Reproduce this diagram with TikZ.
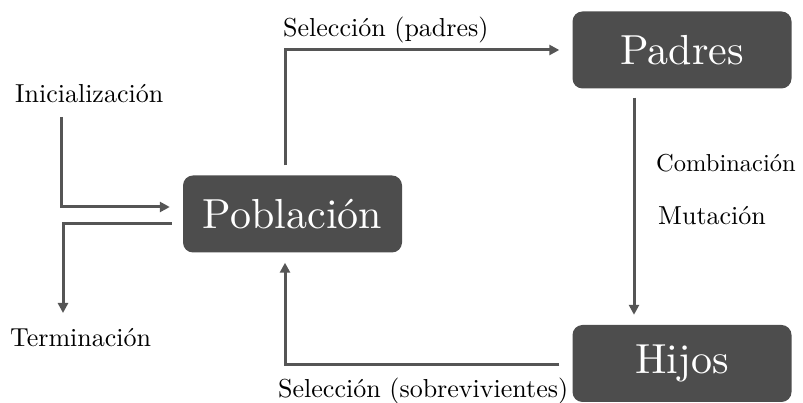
\documentclass[tikz,border=0pt]{standalone}
\usepackage{fontspec}
\setmainfont{lmroman10-regular.otf}
\usetikzlibrary{arrows.meta}
\definecolor{boxgray}{HTML}{4D4D4D}
\definecolor{arrgray}{HTML}{555555}
\begin{document}
\begin{tikzpicture}[x=1pt,y=1pt,
  bigbox/.style={draw=none,fill=boxgray,rounded corners=10pt,text=white,
    minimum width=219pt,minimum height=77pt,inner sep=0pt,
    font=\fontsize{42}{48}\selectfont},
  lbl/.style={inner sep=0pt,anchor=base west,font=\fontsize{26}{31}\selectfont},
  arr/.style={draw=arrgray,line width=3pt,-{Triangle[length=10pt,width=10pt]}}]
\useasboundingbox (0,0) rectangle (803,403);
% boxes
\node[bigbox] (pob) at (292.5,189) {Población};
\node[bigbox] (pad) at (682,353) {Padres};
\node[bigbox] (hij) at (682,39.5) {Hijos};
% labels
\node[lbl] (init) at (15,300) {Inicialización};
\node[lbl] (term) at (10,56) {Terminación};
\node[lbl] (selp) at (283,366) {Selección (padres)};
\node[lbl,font=\fontsize{24.5}{30}\selectfont] (comb) at (656,231) {Combinación};
\node[lbl] (mut) at (658,178) {Mutación};
\node[lbl] (sels) at (278,5) {Selección (sobrevivientes)};
% connectors
\draw[arr] ([shift={(46pt,-14pt)}]init.base west) |- ([shift={(-13pt,7pt)}]pob.west);
\draw[arr] ([shift={(-11pt,-10pt)}]pob.west) -| ([shift={(53pt,34pt)}]term.base west);
\draw[arr] ([shift={(-7.5pt,10pt)}]pob.north) |- ([xshift=-13pt]pad.west);
\draw[arr] ([shift={(-48pt,-9pt)}]pad.south) -- ([shift={(-48pt,10pt)}]hij.north);
\draw[arr] ([shift={(-13pt,-1.5pt)}]hij.west) -| ([shift={(-7.5pt,-10pt)}]pob.south);
\end{tikzpicture}
\end{document}
